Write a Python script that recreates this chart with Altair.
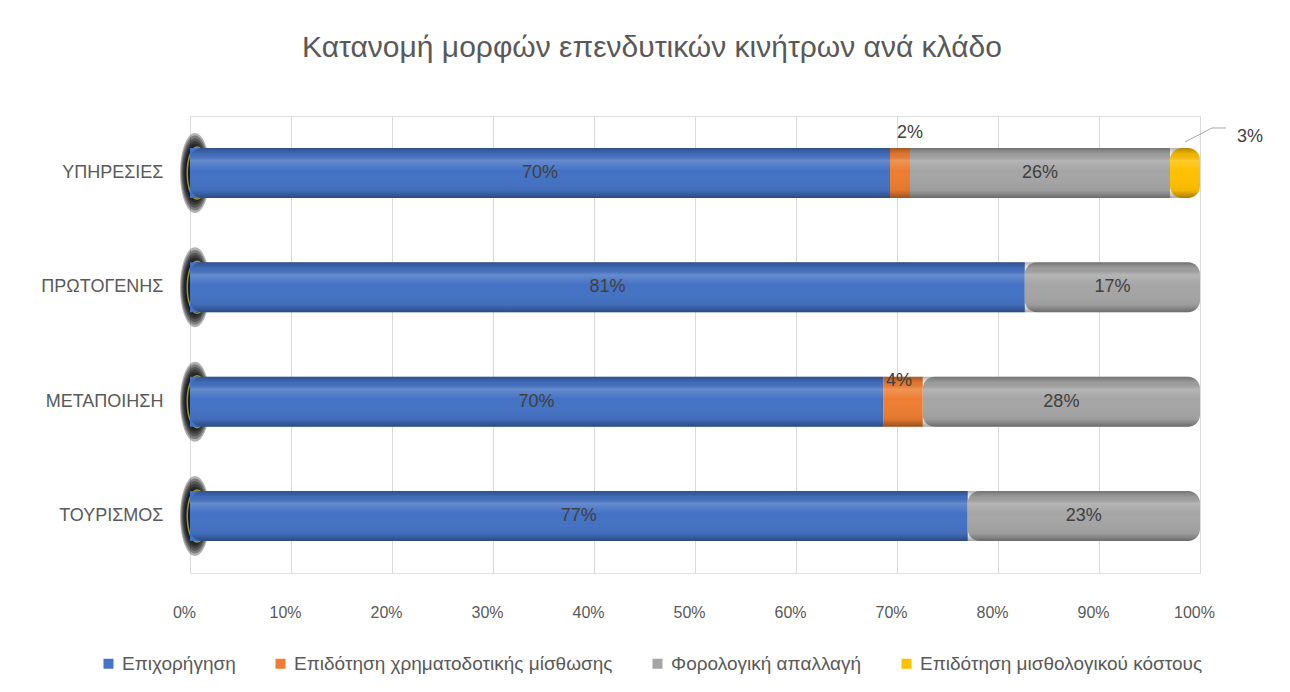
import altair as alt
import pandas as pd

categories = ["ΥΠΗΡΕΣΙΕΣ", "ΠΡΩΤΟΓΕΝΗΣ", "ΜΕΤΑΠΟΙΗΣΗ", "ΤΟΥΡΙΣΜΟΣ"]
series = ["Επιχορήγηση", "Επιδότηση χρηματοδοτικής μίσθωσης",
          "Φορολογική απαλλαγή", "Επιδότηση μισθολογικού κόστους"]
grant = [70, 81, 70, 77]
leasing = [2, 0, 4, 0]
tax = [26, 17, 28, 23]
wage = [3, 0, 0, 0]
colors = ["#4472C4", "#ED7D31", "#A5A5A5", "#FFC000"]
x_ticks = [0, 0.1, 0.2, 0.3, 0.4, 0.5, 0.6, 0.7, 0.8, 0.9, 1.0]
title_text = "Κατανομή μορφών επενδυτικών κινήτρων ανά κλάδο"

rows = []
for i, cat in enumerate(categories):
    vals = [grant[i], leasing[i], tax[i], wage[i]]
    total = sum(vals)
    nonzero = [j for j, v in enumerate(vals) if v > 0]
    acc = 0
    for j, v in enumerate(vals):
        if v == 0:
            continue
        rows.append(dict(cat=cat, series=series[j], order=j, value=v,
                         label=f"{v}%", start=acc / total, end=(acc + v) / total,
                         mid=(acc + v / 2) / total, last=(j == nonzero[-1])))
        acc += v
df = pd.DataFrame(rows)
cat_df = pd.DataFrame({"cat": categories})

FONT = "Liberation Sans"
GREY = "#595959"

y_enc = alt.Y("cat:N", sort=categories,
              scale=alt.Scale(paddingInner=0.563, paddingOuter=0.28),
              axis=alt.Axis(title=None, ticks=False, domain=False, labelPadding=27,
                            labelFontSize=18, labelColor=GREY, labelFont=FONT,
                            minExtent=150, maxExtent=150))
x_scale = alt.Scale(domain=[0, 1], nice=False, zero=False)
x_axis = alt.Axis(format="%", values=x_ticks, title=None, grid=True, gridColor="#D9D9D9",
                  domain=False, ticks=False, labelPadding=31, labelOffset=-6,
                  labelFlush=False,
                  labelFontSize=16, labelColor=GREY, labelFont=FONT)
color_enc = alt.Color("series:N", scale=alt.Scale(domain=series, range=colors),
                      legend=alt.Legend(orient="none", legendX=-91, legendY=538,
                                        direction="horizontal", title=None,
                                        symbolType="square", symbolSize=100,
                                        symbolStrokeWidth=0, labelFontSize=19,
                                        labelColor=GREY, labelFont=FONT,
                                        labelLimit=0, columnPadding=35))

ellipse = "M0,-1 A0.375,1 0 1,1 0,1 A0.375,1 0 1,1 0,-1 Z"
shadows = []
for size in [6400, 5600, 4800, 4100, 3500, 2900]:
    shadows.append(
        alt.Chart(cat_df).mark_point(shape=ellipse, filled=True, color="black",
                                     opacity=0.3, size=size, xOffset=5, strokeWidth=0)
        .encode(x=alt.X("z:Q", scale=x_scale, axis=x_axis), y=y_enc)
        .transform_calculate(z="0")
    )
shadows.append(
    alt.Chart(cat_df).mark_point(shape=ellipse, filled=False, color="#A4A43A",
                                 opacity=0.9, size=2700, xOffset=7, strokeWidth=1.5)
    .encode(x=alt.X("z:Q", scale=x_scale, axis=x_axis), y=y_enc)
    .transform_calculate(z="0")
)

base = alt.Chart(df)
bars_mid = base.transform_filter("!datum.last").mark_bar().encode(
    x=alt.X("start:Q", scale=x_scale, axis=x_axis), x2="end:Q", y=y_enc, color=color_enc)
bars_last = base.transform_filter("datum.last").mark_bar(cornerRadiusEnd=12).encode(
    x=alt.X("start:Q", scale=x_scale, axis=x_axis), x2="end:Q", y=y_enc, color=color_enc)

shade = alt.Gradient(gradient="linear", x1=0, y1=0, x2=0, y2=1, stops=[
    alt.GradientStop(offset=0, color="rgba(0,0,0,0.30)"),
    alt.GradientStop(offset=0.12, color="rgba(0,0,0,0.05)"),
    alt.GradientStop(offset=0.25, color="rgba(255,255,255,0.18)"),
    alt.GradientStop(offset=0.45, color="rgba(255,255,255,0.0)"),
    alt.GradientStop(offset=0.85, color="rgba(0,0,0,0.05)"),
    alt.GradientStop(offset=1, color="rgba(0,0,0,0.35)"),
])
overlay = alt.Chart(cat_df).transform_calculate(a="0", b="1").mark_bar(
    cornerRadiusEnd=12, color=shade).encode(
    x=alt.X("a:Q", scale=x_scale, axis=x_axis), x2="b:Q", y=y_enc)

txt_kw = dict(fontSize=18, color="#404040", font=FONT)
labels_main = base.transform_filter("datum.value >= 10").mark_text(**txt_kw).encode(
    x="mid:Q", y=y_enc, text="label:N")
lab_2 = base.transform_filter(
    f"datum.cat == '{categories[0]}' && datum.series == '{series[1]}'").mark_text(
    dy=-40, dx=10, **txt_kw).encode(x="mid:Q", y=y_enc, text="label:N")
lab_4 = base.transform_filter(
    f"datum.cat == '{categories[2]}' && datum.series == '{series[1]}'").mark_text(
    dy=-21, dx=-4, **txt_kw).encode(x="mid:Q", y=y_enc, text="label:N")
lab_3 = base.transform_filter(f"datum.series == '{series[3]}'").mark_text(
    dx=50, dy=-36, **txt_kw).encode(x="end:Q", y=y_enc, text="label:N")
lead1 = base.transform_filter(f"datum.series == '{series[3]}'").mark_rule(
    color="#A6A6A6", strokeWidth=1, yOffset=-31, y2Offset=-45, x2Offset=12).encode(
    x="mid:Q", x2="end:Q", y=y_enc, y2="cat:N")
lead2 = base.transform_filter(f"datum.series == '{series[3]}'").mark_rule(
    color="#A6A6A6", strokeWidth=1, yOffset=-45, y2Offset=-45, xOffset=12, x2Offset=26).encode(
    x="end:Q", x2="end:Q", y=y_enc, y2="cat:N")

chart = alt.layer(*shadows, bars_mid, bars_last, overlay, labels_main, lab_2, lab_4,
                  lab_3, lead1, lead2).properties(
    width=1010, height=457,
    title=alt.TitleParams(title_text, fontSize=30, font=FONT,
                          color=GREY, fontWeight="normal", anchor="middle",
                          frame="group", dx=-43, offset=53),
    padding={"left": 32, "top": 25, "right": 5, "bottom": 5},
).configure_view(stroke=None).configure(background="white")

chart.save("out.html", embed_options={"renderer": "svg", "actions": False})
